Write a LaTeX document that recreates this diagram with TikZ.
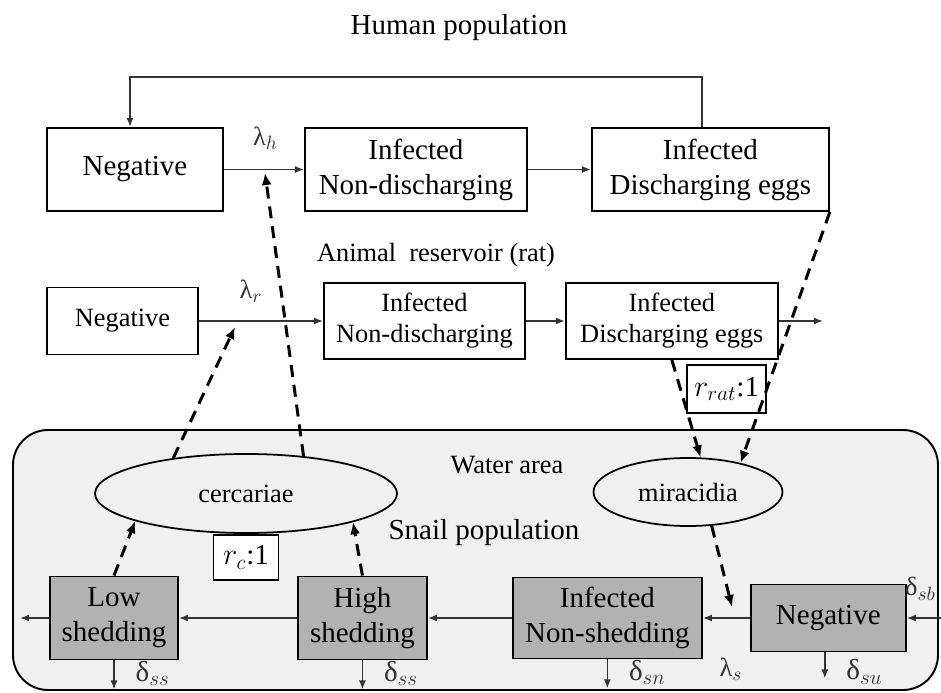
\documentclass[tikz,border=0pt]{standalone}
\usepackage{fontspec}
\setmainfont{Liberation Serif}
\usetikzlibrary{positioning, shapes, arrows.meta}
\newcommand{\bigtxt}{\fontsize{16.5}{20}\selectfont}
\newcommand{\midtxt}{\fontsize{15}{17.7}\selectfont}

\begin{document}
\begin{tikzpicture}[
      node distance=1cm and 1cm,
      box/.style={draw, line width=1.1pt, inner sep=0pt, align=center, minimum height=1.66cm, font=\bigtxt},
      ratbox/.style={box, minimum height=1.52cm, font=\midtxt},
      snail/.style={box, fill=black!30, font=\bigtxt},
      pool/.style={ellipse, draw, line width=1pt, inner sep=0pt, font=\midtxt},
      ratio/.style={draw, line width=1pt, fill=white, inner sep=0pt, font=\bigtxt},
      flow/.style={-{Latex[width=1.4mm, length=1.8mm]}, line width=0.9pt, black!80},
      infect/.style={-{Latex[width=2mm, length=2.4mm]}, line width=1.7pt, dash pattern=on 2.4mm off 1.6mm}]
      \useasboundingbox (0,0) rectangle (18.82,-13.86);
      % water area
      \draw[line width=1.1pt, fill=black!6, rounded corners=0.7cm] (0.26,-8.60) rectangle (18.76,-13.80);

      % human population
      \node[font=\bigtxt] (htitle) at (9.18,-0.56) {Human population};
      \node[box, minimum width=3.52cm] (hneg) at (2.70,-3.39) {Negative};
      \node[box, minimum width=4.44cm] (hnond) [right=1.60cm of hneg] {Infected\\Non-discharging};
      \node[box, minimum width=4.74cm] (hdis) [right=1.26cm of hnond] {Infected\\Discharging eggs};

      % animal reservoir
      \node[font=\midtxt] (rtitle) at (8.72,-5.10) {Animal\ \ reservoir (rat)};
      \node[ratbox, minimum width=3.02cm, minimum height=1.34cm] (rneg) at (2.45,-6.42) {Negative};
      \node[ratbox, minimum width=4.02cm] (rnond) [right=2.48cm of rneg] {Infected\\Non-discharging};
      \node[ratbox, minimum width=4.24cm] (rdis) [right=0.78cm of rnond] {Infected\\Discharging eggs};
      \node[ratio, minimum width=1.58cm, minimum height=0.96cm] (rrat) at (14.53,-7.78) {$r_{rat}$:1};

      % water and snails
      \node[font=\midtxt] (wtitle) at (10.14,-9.30) {Water area};
      \node[font=\bigtxt] (stitle) at (9.68,-10.66) {Snail population};
      \node[pool, minimum width=6.04cm, minimum height=1.58cm] (cerc) at (4.92,-9.87) {cercariae};
      \node[pool, minimum width=3.78cm, minimum height=1.36cm] (mira) at (13.76,-9.84) {miracidia};
      \node[ratio, minimum width=1.30cm, minimum height=0.90cm] (rc) [below=0cm of cerc] {$r_c$:1};
      \node[snail, minimum width=2.56cm] (lows) at (2.28,-12.36) {Low\\shedding};
      \node[snail, minimum width=2.58cm] (highs) [right=2.36cm of lows] {High\\shedding};
      \node[snail, minimum width=3.78cm, minimum height=1.62cm] (nons) [right=1.68cm of highs] {Infected\\Non-shedding};
      \node[snail, minimum width=3.10cm, minimum height=1.34cm] (sneg) [right=0.94cm of nons] {Negative};

      \coordinate (lamh) at (5.30,-3.46);
      \coordinate (lamr) at (4.70,-6.54);
      \coordinate (lams) at (14.64,-12.14);
      \coordinate (rout) at (16.46,-6.42);
      \coordinate (lout) at (0.40,-12.36);
      \coordinate (sfeed) at (18.82,-12.36);

      \draw[flow] (hneg) -- (hnond) node [pos=0.52, above=0.26cm, font=\midtxt] {λ$_h$};
      \draw[flow] (hnond) -- (hdis);
      \draw[flow] ([xshift=-0.17cm]hdis.north) -- ++(0,1.0) -| ([xshift=-0.1cm]hneg.north);
      \draw[flow] (rneg) -- (rnond) node [pos=0.42, above=0.24cm, font=\midtxt] {λ$_r$};
      \draw[flow] (rnond) -- (rdis);
      \draw[flow] (rdis) -- (rout);
      \draw[flow] (sfeed) -- (sneg) node [pos=0.6, above=0.22cm, font=\midtxt] {δ$_{sb}$};
      \draw[flow] (sneg) -- (nons) node [pos=0.4, below=0.66cm, font=\midtxt] {λ$_s$};
      \draw[flow] (nons) -- (highs);
      \draw[flow] (highs) -- (lows);
      \draw[flow] (lows) -- (lout);
      \draw[flow] (lows.south) -- ++(0,-0.58) node [pos=0.45, right=0.3cm, font=\bigtxt] {δ$_{ss}$};
      \draw[flow] (highs.south) -- ++(0,-0.58) node [pos=0.45, right=0.3cm, font=\bigtxt] {δ$_{ss}$};
      \draw[flow] (nons.south) -- ++(0,-0.58) node [pos=0.45, right=0.3cm, font=\bigtxt] {δ$_{sn}$};
      \draw[flow] ([xshift=-0.07cm]sneg.south) -- ++(0,-0.52) node [pos=0.75, right=0.3cm, font=\bigtxt] {δ$_{su}$};

      % infection routes
      \draw[infect] (cerc.33) -- (lamh);
      \draw[infect] (cerc.154) -- (lamr);
      \draw[infect] (lows.north) -- (cerc.194);
      \draw[infect] (highs.north) -- (cerc.345);
      \draw[infect] (rdis.south) -- (mira.70);
      \draw[infect] (hdis.south east) -- (mira.29);
      \draw[infect] (mira.-55) -- (lams);
\end{tikzpicture}
\end{document}
